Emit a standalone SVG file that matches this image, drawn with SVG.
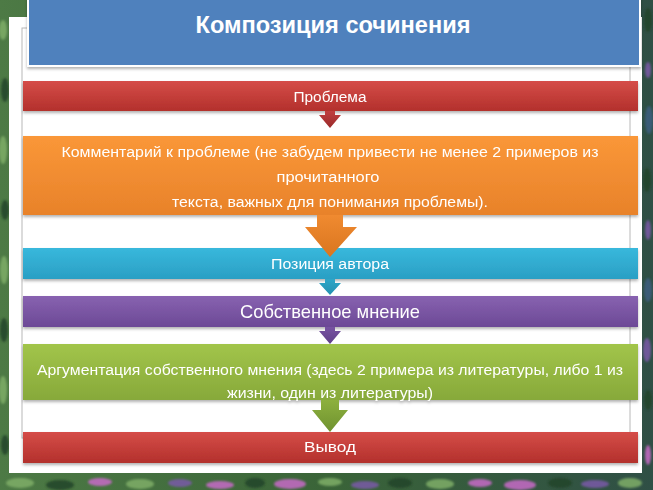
<svg xmlns="http://www.w3.org/2000/svg" width="653" height="490" viewBox="0 0 653 490">
<defs>
<linearGradient id="bg" x1="0" y1="0" x2="1" y2="0">
<stop offset="0" stop-color="#4d7a45"/><stop offset="0.5" stop-color="#3a6438"/><stop offset="1" stop-color="#2f4f45"/>
</linearGradient>
<linearGradient id="gRed" x1="0" y1="0" x2="0" y2="1"><stop offset="0" stop-color="#d54d48"/><stop offset="1" stop-color="#b3302c"/></linearGradient>
<linearGradient id="gOrange" x1="0" y1="0" x2="0" y2="1"><stop offset="0" stop-color="#fa9738"/><stop offset="1" stop-color="#e8822a"/></linearGradient>
<linearGradient id="gCyan" x1="0" y1="0" x2="0" y2="1"><stop offset="0" stop-color="#38b8dc"/><stop offset="1" stop-color="#2a9fc4"/></linearGradient>
<linearGradient id="gPurple" x1="0" y1="0" x2="0" y2="1"><stop offset="0" stop-color="#8862b0"/><stop offset="1" stop-color="#6c4996"/></linearGradient>
<linearGradient id="gGreen" x1="0" y1="0" x2="0" y2="1"><stop offset="0" stop-color="#a2c54a"/><stop offset="1" stop-color="#87a93a"/></linearGradient>
<linearGradient id="aRed" x1="0" y1="0" x2="0" y2="1"><stop offset="0" stop-color="#c04040"/><stop offset="1" stop-color="#9a2a2a"/></linearGradient>
<linearGradient id="aOrange" x1="0" y1="0" x2="0" y2="1"><stop offset="0" stop-color="#f08a30"/><stop offset="1" stop-color="#d9761f"/></linearGradient>
<linearGradient id="aCyan" x1="0" y1="0" x2="0" y2="1"><stop offset="0" stop-color="#2ea6c8"/><stop offset="1" stop-color="#2490b0"/></linearGradient>
<linearGradient id="aPurple" x1="0" y1="0" x2="0" y2="1"><stop offset="0" stop-color="#7854a2"/><stop offset="1" stop-color="#5f3f88"/></linearGradient>
<linearGradient id="aGreen" x1="0" y1="0" x2="0" y2="1"><stop offset="0" stop-color="#8db03e"/><stop offset="1" stop-color="#6f9230"/></linearGradient>
<filter id="sh" x="-5%" y="-20%" width="110%" height="160%">
<feDropShadow dx="0" dy="2" stdDeviation="1.5" flood-color="#000" flood-opacity="0.3"/>
</filter>
<filter id="blur"><feGaussianBlur stdDeviation="1"/></filter>
</defs>
<style>
.t{font-family:"Liberation Sans",Arial,sans-serif;fill:#fff;text-anchor:middle;font-size:15.5px}
.big{font-size:19px}
.title{font-family:"Liberation Sans",Arial,sans-serif;fill:#fff;text-anchor:middle;font-size:24px;font-weight:bold}
.bar{filter:url(#sh)}
.lg{fill:#7fae68}.dg{fill:#24442a}.pk{fill:#c86ac8}.pu{fill:#7a5aa8}.bl{fill:#3d5f80}
</style>

<g id="background">
<rect x="0" y="0" width="653" height="490" fill="url(#bg)"/>
<g filter="url(#blur)" opacity="0.85">
<ellipse class="lg" cx="3" cy="30" rx="4" ry="10"/>
<ellipse class="dg" cx="5" cy="90" rx="4" ry="12"/>
<ellipse class="lg" cx="3" cy="150" rx="4" ry="14"/>
<ellipse class="dg" cx="5" cy="210" rx="4" ry="10"/>
<ellipse class="lg" cx="4" cy="270" rx="4" ry="14"/>
<ellipse class="dg" cx="4" cy="330" rx="4" ry="12"/>
<ellipse class="lg" cx="3" cy="390" rx="4" ry="14"/>
<ellipse class="dg" cx="5" cy="445" rx="4" ry="10"/>
<ellipse class="dg" cx="648" cy="20" rx="4" ry="12"/>
<ellipse class="pu" cx="648" cy="70" rx="3" ry="8"/>
<ellipse class="bl" cx="649" cy="120" rx="4" ry="14"/>
<ellipse class="dg" cx="647" cy="180" rx="4" ry="12"/>
<ellipse class="pu" cx="648" cy="230" rx="3" ry="10"/>
<ellipse class="bl" cx="648" cy="290" rx="4" ry="12"/>
<ellipse class="pu" cx="647" cy="350" rx="4" ry="12"/>
<ellipse class="dg" cx="648" cy="400" rx="4" ry="10"/>
<ellipse class="pk" cx="648" cy="455" rx="3" ry="10"/>
<ellipse class="lg" cx="20" cy="483" rx="14" ry="5"/>
<ellipse class="dg" cx="60" cy="485" rx="14" ry="5"/>
<ellipse class="pk" cx="100" cy="482" rx="12" ry="4"/>
<ellipse class="lg" cx="140" cy="484" rx="14" ry="5"/>
<ellipse class="pu" cx="180" cy="483" rx="12" ry="4"/>
<ellipse class="pk" cx="220" cy="485" rx="14" ry="4"/>
<ellipse class="dg" cx="255" cy="483" rx="10" ry="5"/>
<ellipse class="pk" cx="290" cy="484" rx="16" ry="5"/>
<ellipse class="lg" cx="330" cy="482" rx="12" ry="4"/>
<ellipse class="pu" cx="365" cy="485" rx="14" ry="4"/>
<ellipse class="dg" cx="400" cy="483" rx="12" ry="5"/>
<ellipse class="lg" cx="440" cy="484" rx="14" ry="5"/>
<ellipse class="pk" cx="480" cy="483" rx="12" ry="4"/>
<ellipse class="pk" cx="520" cy="485" rx="16" ry="5"/>
<ellipse class="dg" cx="560" cy="483" rx="12" ry="5"/>
<ellipse class="pu" cx="595" cy="484" rx="14" ry="4"/>
<ellipse class="lg" cx="630" cy="483" rx="12" ry="5"/>
</g>
</g>

<g id="panel">
<rect x="9" y="17" width="633" height="456" fill="#fff"/>
<rect x="22" y="28" width="608" height="410" fill="none" stroke="#b8b8b8" stroke-width="1"/>
</g>

<g id="title">
<rect x="28" y="-2" width="612" height="68" fill="#4f81bd" stroke="#fff" stroke-width="2" filter="url(#sh)"/>
<text class="title" x="333" y="33" textLength="275" lengthAdjust="spacingAndGlyphs">Композиция сочинения</text>
</g>

<g id="n1" class="bar">
<rect x="23" y="81" width="615" height="30" fill="url(#gRed)"/>
<text class="t" x="330" y="102" textLength="73" lengthAdjust="spacingAndGlyphs">Проблема</text>
</g>

<g id="n2" class="bar">
<rect x="23" y="136" width="615" height="79" fill="url(#gOrange)"/>
<text class="t" x="330" y="157" textLength="537" lengthAdjust="spacingAndGlyphs">Комментарий к проблеме (не забудем привести не менее 2 примеров из</text>
<text class="t" x="328" y="182" textLength="103" lengthAdjust="spacingAndGlyphs">прочитанного</text>
<text class="t" x="330" y="207" textLength="316" lengthAdjust="spacingAndGlyphs">текста, важных для понимания проблемы).</text>
</g>

<g id="n3" class="bar">
<rect x="23" y="248" width="615" height="31" fill="url(#gCyan)"/>
<text class="t" x="330" y="269" textLength="118" lengthAdjust="spacingAndGlyphs">Позиция автора</text>
</g>

<g id="n4" class="bar">
<rect x="23" y="296" width="615" height="31" fill="url(#gPurple)"/>
<text class="t big" x="330" y="318" textLength="180" lengthAdjust="spacingAndGlyphs">Собственное мнение</text>
</g>

<g id="n5" class="bar">
<rect x="23" y="344" width="615" height="56" fill="url(#gGreen)"/>
<text class="t" x="330" y="375" textLength="586" lengthAdjust="spacingAndGlyphs">Аргументация собственного мнения (здесь 2 примера из литературы, либо 1 из</text>
<text class="t" x="330" y="398" textLength="206" lengthAdjust="spacingAndGlyphs">жизни, один из литературы)</text>
</g>

<g id="n6" class="bar">
<rect x="23" y="432" width="615" height="31" fill="url(#gRed)"/>
<text class="t" x="330" y="452" textLength="52" lengthAdjust="spacingAndGlyphs">Вывод</text>
</g>

<g id="connectors">
<path d="M325 111 H335 V115 H341 L330 128 L319 115 H325 Z" fill="url(#aRed)"/>
<path d="M317 215 H343 V227 H357 L330 257 L305 227 H317 Z" fill="url(#aOrange)"/>
<path d="M325 279 H335 V283 H341 L330 295 L319 283 H325 Z" fill="url(#aCyan)"/>
<path d="M325 327 H335 V331 H341 L330 344 L319 331 H325 Z" fill="url(#aPurple)"/>
<path d="M321 400 H339 V410 H348 L330 432 L312 410 H321 Z" fill="url(#aGreen)"/>
</g>
</svg>
